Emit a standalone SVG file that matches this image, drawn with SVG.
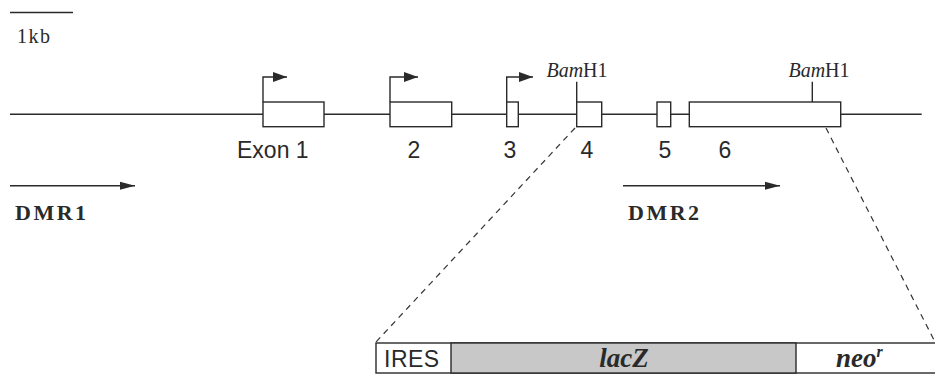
<svg xmlns="http://www.w3.org/2000/svg" width="935" height="374" viewBox="0 0 935 374">
<style>
.ln{stroke:#2a2a2a;stroke-width:1.4;fill:none}
.bx{stroke:#2a2a2a;stroke-width:1.4;fill:#fff}
.dash{stroke:#333;stroke-width:1.2;fill:none;stroke-dasharray:6 5}
.sans{font-family:"Liberation Sans",Arial,sans-serif;fill:#2a2a2a}
.serif{font-family:"Liberation Serif","Times New Roman",serif;fill:#2a2a2a}
.ah{fill:#2a2a2a}
</style>
<defs>
<marker id="arr" markerWidth="16" markerHeight="10" refX="15" refY="5" orient="auto" markerUnits="userSpaceOnUse">
<path d="M0,1 L15,5 L0,9 Z" class="ah"/>
</marker>
<marker id="tss" markerWidth="16" markerHeight="12" refX="14" refY="6" orient="auto" markerUnits="userSpaceOnUse">
<path d="M0,1 L14,6 L0,11 Z" class="ah"/>
</marker>
</defs>
<rect width="935" height="374" fill="#fff"/>
<g id="scale">
<line x1="10" y1="12.5" x2="73" y2="12.5" class="ln"/>
<text x="17" y="43" class="serif" font-size="20" letter-spacing="1.5">1kb</text>
</g>
<g id="connectors">
<line x1="10" y1="114.3" x2="921.7" y2="114.3" class="ln"/>
<path d="M263,102 V77 H287" class="ln" marker-end="url(#tss)"/>
<path d="M390,102 V77 H418" class="ln" marker-end="url(#tss)"/>
<path d="M506.7,102 V77 H533" class="ln" marker-end="url(#tss)"/>
<line x1="576.7" y1="81.7" x2="576.7" y2="102" class="ln"/>
<line x1="812.3" y1="81.7" x2="812.3" y2="102" class="ln"/>
<line x1="10" y1="185.7" x2="135" y2="185.7" class="ln" marker-end="url(#arr)"/>
<line x1="623" y1="185.7" x2="780" y2="185.7" class="ln" marker-end="url(#arr)"/>
<line x1="575" y1="128" x2="376" y2="342" class="dash"/>
<line x1="826" y1="128" x2="935" y2="342" class="dash"/>
</g>
<g id="exon1"><rect x="263" y="102" width="61" height="24.7" class="bx"/><text x="237" y="158" class="sans" font-size="23">Exon 1</text></g>
<g id="exon2"><rect x="390" y="102" width="61.7" height="24.7" class="bx"/><text x="414" y="158" class="sans" font-size="23" text-anchor="middle">2</text></g>
<g id="exon3"><rect x="506.7" y="102" width="11.6" height="24.7" class="bx"/><text x="510" y="158" class="sans" font-size="23" text-anchor="middle">3</text></g>
<g id="exon4"><rect x="576.7" y="102" width="25" height="24.7" class="bx"/><text x="587" y="158" class="sans" font-size="23" text-anchor="middle">4</text></g>
<g id="exon5"><rect x="657" y="102" width="13.7" height="24.7" class="bx"/><text x="665" y="158" class="sans" font-size="23" text-anchor="middle">5</text></g>
<g id="exon6"><rect x="689.3" y="102" width="151.4" height="24.7" class="bx"/><text x="725" y="158" class="sans" font-size="23" text-anchor="middle">6</text></g>
<g id="bamh1a"><text x="577" y="77" class="serif" font-size="20" text-anchor="middle"><tspan font-style="italic">Bam</tspan>H1</text></g>
<g id="bamh1b"><text x="819" y="77" class="serif" font-size="20" text-anchor="middle"><tspan font-style="italic">Bam</tspan>H1</text></g>
<g id="dmr1"><text x="15" y="220" class="serif" font-size="22" font-weight="bold" letter-spacing="2.5">DMR1</text></g>
<g id="dmr2"><text x="628" y="220" class="serif" font-size="22" font-weight="bold" letter-spacing="2.5">DMR2</text></g>
<g id="cassette">
<rect x="376" y="343" width="600" height="30" class="bx"/>
<rect x="451" y="343" width="345" height="30" fill="#c8c8c8" stroke="#2a2a2a" stroke-width="1.4"/>
<text x="384" y="367" class="sans" font-size="23" letter-spacing="0.5">IRES</text>
<text x="624" y="367" class="serif" font-size="27" font-weight="bold" font-style="italic" text-anchor="middle">lacZ</text>
<text x="836" y="367" class="serif" font-size="27" font-weight="bold" font-style="italic">neo<tspan font-size="16" dy="-10">r</tspan></text>
</g>
</svg>
